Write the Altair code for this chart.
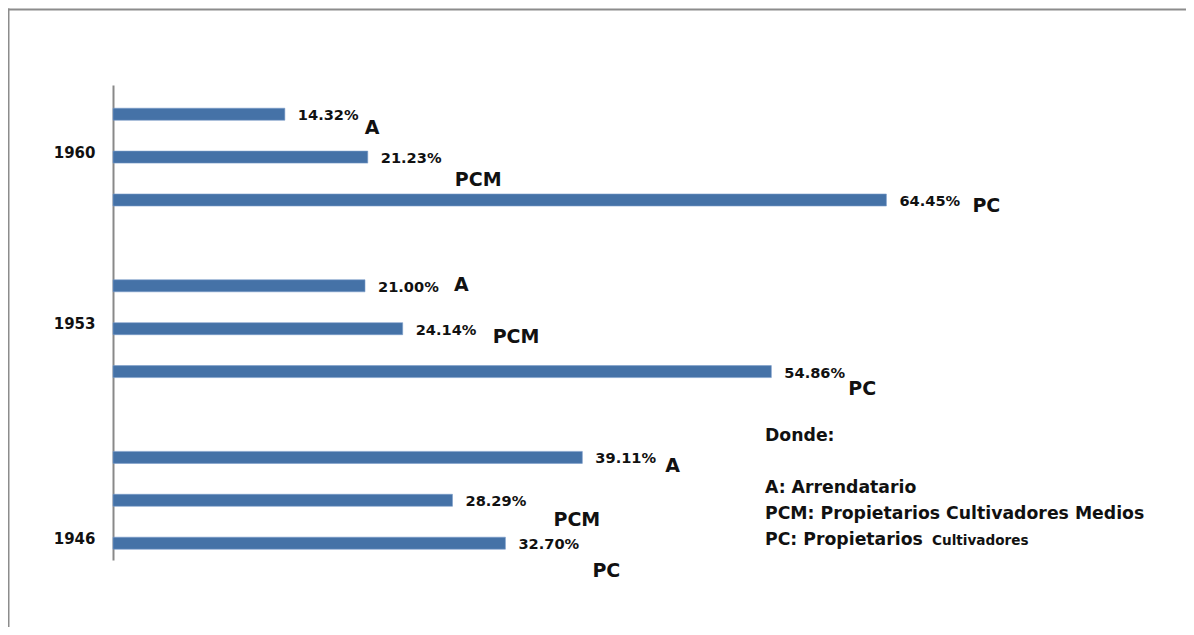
import altair as alt
import pandas as pd

# ---- data ----
years = ["1960", "1953", "1946"]
categories = ["A", "PCM", "PC"]
values_1960 = [14.32, 21.23, 64.45]
values_1953 = [21.00, 24.14, 54.86]
values_1946 = [39.11, 28.29, 32.70]
all_values = [values_1960, values_1953, values_1946]

# label nudges (pixels) for the category-code labels, as placed in the original
nudge_dx = [80, 87, 86, 89, 90, 77, 83, 101, 87]
nudge_dy = [13.5, 22.5, 6, -1, 8, 17.5, 9, 19.5, 27.5]

rows = []
k = 0
for g, (yr, vals) in enumerate(zip(years, all_values)):
    for i, (cat, v) in enumerate(zip(categories, vals)):
        rows.append({
            "year": yr, "cat": cat, "value": v, "row": g * 4 + i,
            "vlabel": f"{v:.2f}%", "ndx": nudge_dx[k], "ndy": nudge_dy[k],
        })
        k += 1
df = pd.DataFrame(rows)

year_rows = [1, 5, 10]
label_expr = " : ".join(
    f"datum.value == {r} ? '{y}'" for r, y in zip(year_rows[:-1], years[:-1])
) + f" : '{years[-1]}'"

W, H = 1000, 475
X_DOM = [0, 83.333]
Y_DOM = [-0.681, 10.392]
PX_X = W / (X_DOM[1] - X_DOM[0])
PX_Y = H / (Y_DOM[1] - Y_DOM[0])
FONT = "DejaVu Sans"
BLUE = "#4572A7"
TXT = "#111111"

xs = alt.Scale(domain=X_DOM, nice=False, zero=True, padding=0)
ys = alt.Scale(domain=Y_DOM, reverse=True, nice=False, zero=False, padding=0)

base = alt.Chart(df)

bars = base.mark_bar(orient="horizontal", size=12, color=BLUE,
                     stroke="#7b9cc9", strokeWidth=0.6).encode(
    x=alt.X("value:Q", scale=xs, axis=None),
    y=alt.Y("row:Q", scale=ys, axis=alt.Axis(
        values=year_rows, labelExpr=label_expr, title=None, grid=False,
        ticks=False, domainColor="#898989", domainWidth=2, labelPadding=18,
        labelFont=FONT, labelFontSize=15, labelFontWeight="bold",
        labelColor=TXT, labelOffset=-5)),
)

vlabels = base.mark_text(align="left", baseline="middle", dx=13, dy=2,
                         font=FONT, fontSize=14.6, fontWeight="bold",
                         color=TXT).encode(
    x=alt.X("value:Q", scale=xs), y=alt.Y("row:Q", scale=ys),
    text="vlabel:N",
)

clabels = base.transform_calculate(
    lx=f"datum.value + datum.ndx / {PX_X}",
    ly=f"datum.row + datum.ndy / {PX_Y}",
).mark_text(align="left", baseline="middle",
            font=FONT, fontSize=19, fontWeight="bold",
            color=TXT).encode(
    x=alt.X("lx:Q", scale=xs), y=alt.Y("ly:Q", scale=ys),
    text="cat:N",
)

one = pd.DataFrame({"k": [0]})
NOTE_X = 652
NOTE_Y = 355.5
LH = 26
note_head = alt.Chart(one).mark_text(
    text="Donde:", align="left", baseline="alphabetic",
    font=FONT, fontSize=17.3, fontWeight="bold", color=TXT,
).encode(x=alt.value(NOTE_X), y=alt.value(NOTE_Y))

note_lines = ["A: Arrendatario", "PCM: Propietarios Cultivadores Medios",
              "PC: Propietarios"]
note = alt.Chart(one).mark_text(
    text=note_lines, align="left", baseline="alphabetic", lineHeight=LH,
    font=FONT, fontSize=17.3, fontWeight="bold", color=TXT,
).encode(x=alt.value(NOTE_X), y=alt.value(NOTE_Y + 2 * LH))

note_small = alt.Chart(one).mark_text(
    text="Cultivadores", align="left", baseline="alphabetic",
    font=FONT, fontSize=13.6, fontWeight="bold", color=TXT,
).encode(x=alt.value(NOTE_X + 167), y=alt.value(NOTE_Y + 4 * LH))

frame_left = alt.Chart(one).mark_rule(
    color="#8c8c8c", strokeWidth=2).encode(
    x=alt.value(-104.5), y=alt.value(-76.5), y2=alt.value(H + 70))
frame_top = alt.Chart(one).mark_rule(
    color="#8c8c8c", strokeWidth=2).encode(
    x=alt.value(-105), x2=alt.value(W + 75), y=alt.value(-75.5))

chart = alt.layer(frame_left, frame_top, bars, vlabels, clabels, note_head,
                  note, note_small).properties(
    width=W, height=H,
    autosize=alt.AutoSizeParams(type="none"),
    padding={"left": 105, "top": 77, "right": 73, "bottom": 67},
    background="white",
).configure_view(stroke=None)

chart.save("out.html", embed_options={"renderer": "svg", "actions": False})
